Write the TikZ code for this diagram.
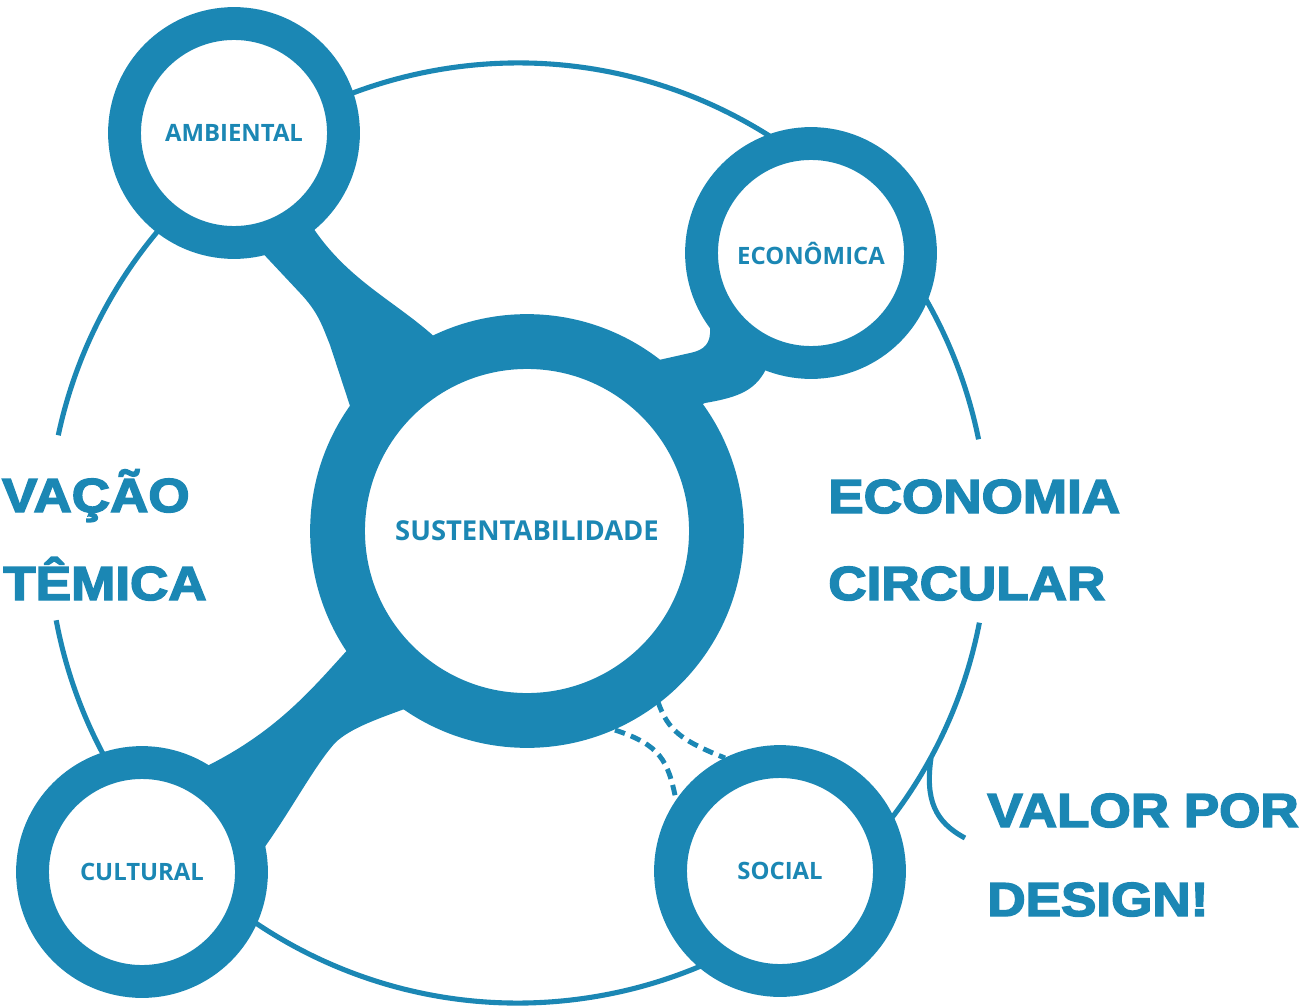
\documentclass[tikz,border=0pt]{standalone}
\usepackage{graphicx}
\usepackage{fontspec}
\setmainfont{Liberation Sans}
\newfontfamily\heavy{Liberation Sans}[BoldFeatures={FakeBold=3}]
\newfontfamily\labfont{Open Sans}
\definecolor{blu}{RGB}{27,135,180}
\tikzset{
  bigtext/.style={font=\heavy\bfseries\fontsize{27.2}{30}\selectfont, text=blu, inner sep=0pt},
  labtext/.style={font=\labfont\bfseries\fontsize{13.6}{16}\selectfont, text=blu},
  labbig/.style={font=\labfont\bfseries\fontsize{15.6}{18}\selectfont, text=blu},
  ringsm/.style={circle, draw=blu, fill=white, line width=18.7pt, minimum size=4.38cm, inner sep=0pt},
  ringbig/.style={circle, draw=blu, fill=white, line width=31.2pt, minimum size=7.58cm, inner sep=0pt},
  orbit/.style={draw=blu, line width=2.9pt},
  dashlink/.style={draw=blu, line width=2.8pt, dash pattern=on 6pt off 3.6pt},
  blob/.style={fill=blu}
}
\begin{document}
\begin{tikzpicture}[x=0.02cm, y=-0.02cm]
\useasboundingbox (0,0) rectangle (1314,1007);
\coordinate (O) at (518,533);
% outer orbit, interrupted by the side texts
\draw[orbit] (O) ++(-11.5:470) arc[start angle=-11.5, end angle=-168, radius=470];
\draw[orbit] (O) ++(169.3:470) arc[start angle=169.3, end angle=11, radius=470];
% hook near VALOR POR DESIGN
\coordinate (hk1) at (931,758);
\coordinate (hk2) at (965,838);
\draw[orbit] (hk1) .. controls (925,800) and (935,822) .. (hk2);
% connectors
\fill[blob] (255,245) -- (300,293) .. controls (318,312) and (322,325) .. (330,345) -- (352,412) -- (430,420) -- (438,340) .. controls (395,300) and (345,280) .. (308,220) -- (270,180) -- cycle;
\fill[blob] (650,362) -- (690,353) .. controls (705,350) and (711,343) .. (710,328) -- (712,315) -- (760,330) -- (768,365) .. controls (757,390) and (740,397) .. (705,403) -- (690,410) -- (640,430) -- cycle;
\fill[blob] (352,645) .. controls (315,685) and (280,730) .. (205,767) -- (150,850) -- (264,848) .. controls (290,812) and (315,765) .. (335,743) .. controls (350,728) and (380,718) .. (410,707) -- (450,600) -- cycle;
% dashed links to SOCIAL
\draw[dashlink] (658,702) .. controls (668,730) and (680,740) .. (725,758);
\draw[dashlink] (615,730) .. controls (660,745) and (668,760) .. (676,800);
% rings
\node[ringbig, labbig] (sus) at (527,531) {SUSTENTABILIDADE};
\node[ringsm, labtext] (amb) at (234,133) {AMBIENTAL};
\node[ringsm, labtext] (eco) at (811,253) {ECONÔMICA};
\node[ringsm, labtext] (cul) at (142,872) {CULTURAL};
\node[ringsm, labtext] (soc) at (780,871) {SOCIAL};
% side texts
\node[bigtext, anchor=base west] (t1) at (828,513) {\scalebox{1.11}[1]{ECONOMIA}};
\node[bigtext, anchor=base west] (t2) at (828,600) {\scalebox{1.11}[1]{CIRCULAR}};
\node[bigtext, anchor=base west] (t3) at (987,827) {\scalebox{1.11}[1]{VALOR POR}};
\node[bigtext, anchor=base west] (t4) at (987,916) {\scalebox{1.11}[1]{DESIGN!}};
\node[bigtext, anchor=base east] (t5) at (190,512) {\scalebox{1.11}[1]{VAÇÃO}};
\node[bigtext, anchor=base east] (t6) at (207,600) {\scalebox{1.11}[1]{TÊMICA}};
\end{tikzpicture}
\end{document}
